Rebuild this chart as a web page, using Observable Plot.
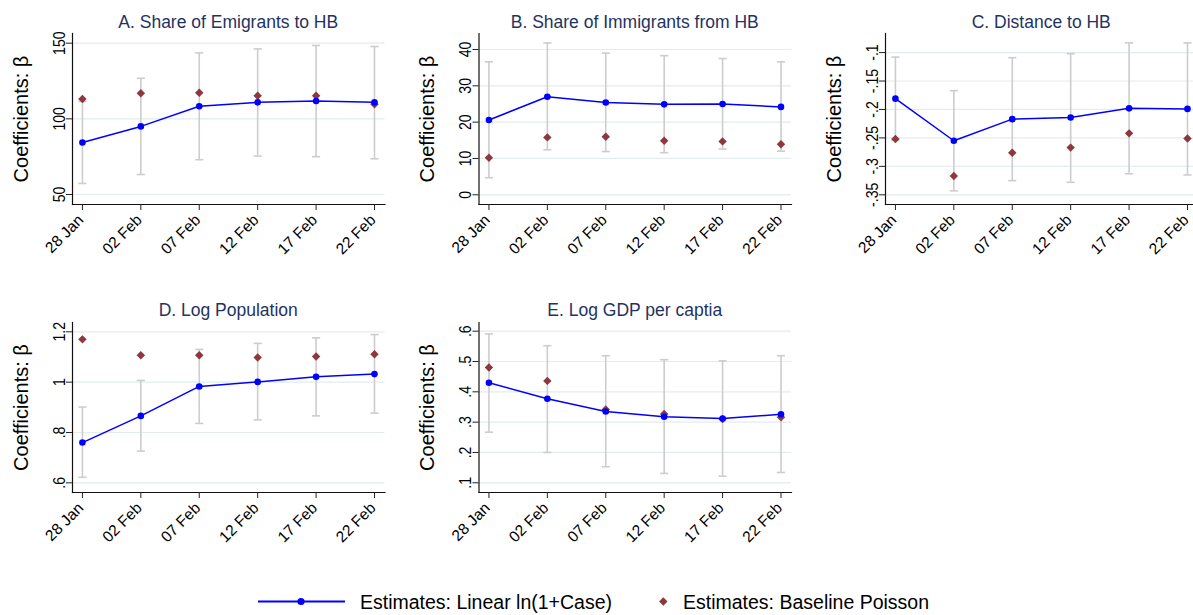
<!DOCTYPE html>
<html>
<head>
<meta charset="utf-8">
<script src="https://cdn.jsdelivr.net/npm/d3@7"></script>
<script src="https://cdn.jsdelivr.net/npm/@observablehq/plot@0.6"></script>
<style>
  html, body { margin: 0; padding: 0; background: #fff; overflow: hidden; }
  #fig { position: relative; width: 1193px; height: 615px; overflow: hidden; background: #fff;
         font-family: "Liberation Sans", Arial, Helvetica, sans-serif; }
  .panel { position: absolute; }
  .panel svg { overflow: visible; }
  .ptitle { position: absolute; text-align: center; color: #1f3361; font-size: 17.5px;
            line-height: 20px; white-space: nowrap; }
  .legtext { position: absolute; font-size: 19.5px; line-height: 22px; color: #000; white-space: nowrap; }
  #legsym { position: absolute; left: 0; top: 588px; }
</style>
</head>
<body>
<div id="fig"></div>
<script>
// Event dates on the x axis
const dates = ["28 Jan", "02 Feb", "07 Feb", "12 Feb", "17 Feb", "22 Feb"];

const titles = [
  "A. Share of Emigrants to HB",
  "B. Share of Immigrants from HB",
  "C. Distance to HB",
  "D. Log Population",
  "E. Log GDP per captia"
];

const yTitle = "Coefficients: β";
const legendLabels = ["Estimates: Linear ln(1+Case)", "Estimates: Baseline Poisson"];

// A. Share of emigrants to HB
const linearA  = [84.4, 95.0, 108.3, 110.9, 111.8, 110.9];
const lowA     = [57.3, 63.2, 73.0, 75.4, 75.0, 73.6];
const highA    = [111.5, 126.8, 143.6, 146.2, 148.5, 147.8];
const poissonA = [113.1, 116.9, 117.3, 115.3, 115.3, 109.6];
const ticksA = [50, 100, 150];
const tickLabelsA = ["50", "100", "150"];

// B. Share of immigrants from HB
const linearB  = [20.6, 27.0, 25.4, 24.9, 25.0, 24.2];
const lowB     = [4.7, 12.4, 11.9, 11.6, 12.6, 12.0];
const highB    = [36.6, 41.8, 39.0, 38.3, 37.5, 36.6];
const poissonB = [10.2, 15.8, 16.0, 14.9, 14.7, 13.9];
const ticksB = [0, 10, 20, 30, 40];
const tickLabelsB = ["0", "10", "20", "30", "40"];

// C. Distance to HB
const linearC  = [-0.181, -0.255, -0.217, -0.214, -0.198, -0.199];
const lowC     = [-0.254, -0.343, -0.325, -0.328, -0.313, -0.315];
const highC    = [-0.108, -0.167, -0.109, -0.102, -0.083, -0.083];
const poissonC = [-0.252, -0.317, -0.276, -0.267, -0.242, -0.251];
const ticksC = [-0.35, -0.3, -0.25, -0.2, -0.15, -0.1];
const tickLabelsC = ["-.35", "-.3", "-.25", "-.2", "-.15", "-.1"];

// D. Log population
const linearD  = [0.760, 0.866, 0.983, 1.001, 1.021, 1.032];
const lowD     = [0.622, 0.726, 0.836, 0.850, 0.866, 0.877];
const highD    = [0.901, 1.007, 1.130, 1.154, 1.176, 1.189];
const poissonD = [1.170, 1.107, 1.107, 1.098, 1.102, 1.111];
const ticksD = [0.6, 0.8, 1, 1.2];
const tickLabelsD = [".6", ".8", "1", "1.2"];

// E. Log GDP per capita
const linearE  = [0.430, 0.377, 0.335, 0.318, 0.312, 0.326];
const lowE     = [0.267, 0.200, 0.153, 0.131, 0.122, 0.134];
const highE    = [0.591, 0.552, 0.519, 0.506, 0.502, 0.519];
const poissonE = [0.480, 0.436, 0.342, 0.327, 0.310, 0.316];
const ticksE = [0.1, 0.2, 0.3, 0.4, 0.5, 0.6];
const tickLabelsE = [".1", ".2", ".3", ".4", ".5", ".6"];

const BLUE = "#0000ff";
const MAROON = "#8c383c";
const CI_GREY = "#cdcdcd";
const GRID = "#e3ecef";
const FONT = '"Liberation Sans", Arial, Helvetica, sans-serif';

// Horizontal cap used at the ends of each confidence interval
const capSymbol = {
  draw(context, size) {
    const w = Math.sqrt(size);
    context.moveTo(-w, 0);
    context.lineTo(w, 0);
  }
};

const PLOT_W = 312.5;
const panels = [
  {title: titles[0], lin: linearA, lo: lowA, hi: highA, poi: poissonA, ticks: ticksA, labels: tickLabelsA,
   left: 0,   top: 0,   mL: 72,    mT: 33, plotH: 171, domain: [43.4, 156.4]},
  {title: titles[1], lin: linearB, lo: lowB, hi: highB, poi: poissonB, ticks: ticksB, labels: tickLabelsB,
   left: 400, top: 0,   mL: 78.5,  mT: 33, plotH: 171, domain: [-2.67, 44.4]},
  {title: titles[2], lin: linearC, lo: lowC, hi: highC, poi: poissonC, ticks: ticksC, labels: tickLabelsC,
   left: 800, top: 0,   mL: 85,    mT: 33, plotH: 171, domain: [-0.367, -0.0665]},
  {title: titles[3], lin: linearD, lo: lowD, hi: highD, poi: poissonD, ticks: ticksD, labels: tickLabelsD,
   left: 0,   top: 290, mL: 72,    mT: 32, plotH: 170, domain: [0.5616, 1.237]},
  {title: titles[4], lin: linearE, lo: lowE, hi: highE, poi: poissonE, ticks: ticksE, labels: tickLabelsE,
   left: 400, top: 290, mL: 78.5,  mT: 32, plotH: 170, domain: [0.068, 0.6286]}
];

const fig = document.getElementById("fig");

function drawPanel(p) {
  const rows = dates.map((d, i) => ({i, date: d, lin: p.lin[i], lo: p.lo[i], hi: p.hi[i], poi: p.poi[i]}));
  const idx = dates.map((d, i) => i);
  const width = p.mL + PLOT_W + 12;
  const height = 290;
  const chart = Plot.plot({
    width, height,
    marginLeft: p.mL, marginTop: p.mT, marginRight: 12, marginBottom: height - p.mT - p.plotH,
    x: {type: "linear", domain: [-0.17, 5.18], axis: null},
    y: {domain: p.domain, axis: null},
    style: {fontFamily: FONT, background: "transparent", color: "#000"},
    marks: [
      Plot.gridY(p.ticks, {stroke: GRID, strokeOpacity: 1, strokeWidth: 1.2}),
      Plot.ruleX(rows, {x: "i", y1: "lo", y2: "hi", stroke: CI_GREY, strokeWidth: 1.6}),
      Plot.dot(rows, {x: "i", y: "lo", symbol: capSymbol, r: 2.3, fill: "none", stroke: CI_GREY, strokeWidth: 1.6}),
      Plot.dot(rows, {x: "i", y: "hi", symbol: capSymbol, r: 2.3, fill: "none", stroke: CI_GREY, strokeWidth: 1.6}),
      Plot.dot(rows, {x: "i", y: "poi", symbol: "diamond2", r: 3.8, fill: MAROON, stroke: "none"}),
      Plot.line(rows, {x: "i", y: "lin", stroke: BLUE, strokeWidth: 1.5}),
      Plot.dot(rows, {x: "i", y: "lin", r: 3.3, fill: BLUE, stroke: "none"}),
      Plot.frame({anchor: "left", stroke: "#111", strokeWidth: 1.2}),
      Plot.frame({anchor: "bottom", stroke: "#111", strokeWidth: 1.2}),
      Plot.axisY(p.ticks, {tickSize: 6, tickFormat: () => "", label: null, stroke: "#222"}),
      Plot.text(p.ticks, {y: d => d, text: (d, i) => p.labels[i], frameAnchor: "left", dx: -8,
        rotate: -90, textAnchor: "middle", lineAnchor: "bottom", fontSize: 16}),
      Plot.axisX(idx, {tickSize: 6, tickFormat: () => "", label: null, stroke: "#222"}),
      Plot.text(idx, {x: d => d, text: d => dates[d], frameAnchor: "bottom", dx: -1.5, dy: 13,
        rotate: -45, textAnchor: "end", lineAnchor: "middle", fontSize: 15.5}),
      Plot.text([yTitle], {frameAnchor: "left", dx: -51, rotate: -90, fontSize: 20,
        textAnchor: "middle", lineAnchor: "middle"})
    ]
  });
  // vertical tick labels are set in a slightly narrow face
  const tickLabelSet = new Set(p.labels);
  chart.querySelectorAll("text").forEach(t => {
    const tr = t.getAttribute("transform") || "";
    if (tickLabelSet.has(t.textContent) && tr.includes("rotate(-90)")) {
      t.setAttribute("transform", tr + " scale(0.88,1)");
    }
  });
  const holder = document.createElement("div");
  holder.className = "panel";
  holder.style.left = p.left + "px";
  holder.style.top = p.top + "px";
  holder.style.width = width + "px";
  holder.appendChild(chart);
  fig.appendChild(holder);

  const t = document.createElement("div");
  t.className = "ptitle";
  t.textContent = p.title;
  t.style.left = (p.left + p.mL) + "px";
  t.style.width = PLOT_W + "px";
  t.style.top = (p.top + (p.top ? 10 : 11.5)) + "px";
  fig.appendChild(t);
}

panels.forEach(drawPanel);

// Legend below the panels
const legY = 13.5;
const leg = d3.select(fig).append("svg").attr("id", "legsym").attr("width", 1193).attr("height", 26);
leg.append("line").attr("x1", 258).attr("x2", 345).attr("y1", legY).attr("y2", legY)
  .attr("stroke", BLUE).attr("stroke-width", 2);
leg.append("circle").attr("cx", 301).attr("cy", legY).attr("r", 3.6).attr("fill", BLUE);
leg.append("path").attr("d", d3.symbol(d3.symbolDiamond2, 3.8 * 3.8 * Math.PI)())
  .attr("transform", `translate(663.3,${legY})`).attr("fill", MAROON);

const l1 = document.createElement("div");
l1.className = "legtext"; l1.textContent = legendLabels[0];
l1.style.left = "360px"; l1.style.top = "590.5px";
fig.appendChild(l1);
const l2 = document.createElement("div");
l2.className = "legtext"; l2.textContent = legendLabels[1];
l2.style.left = "683px"; l2.style.top = "590.5px";
fig.appendChild(l2);
</script>
</body>
</html>
